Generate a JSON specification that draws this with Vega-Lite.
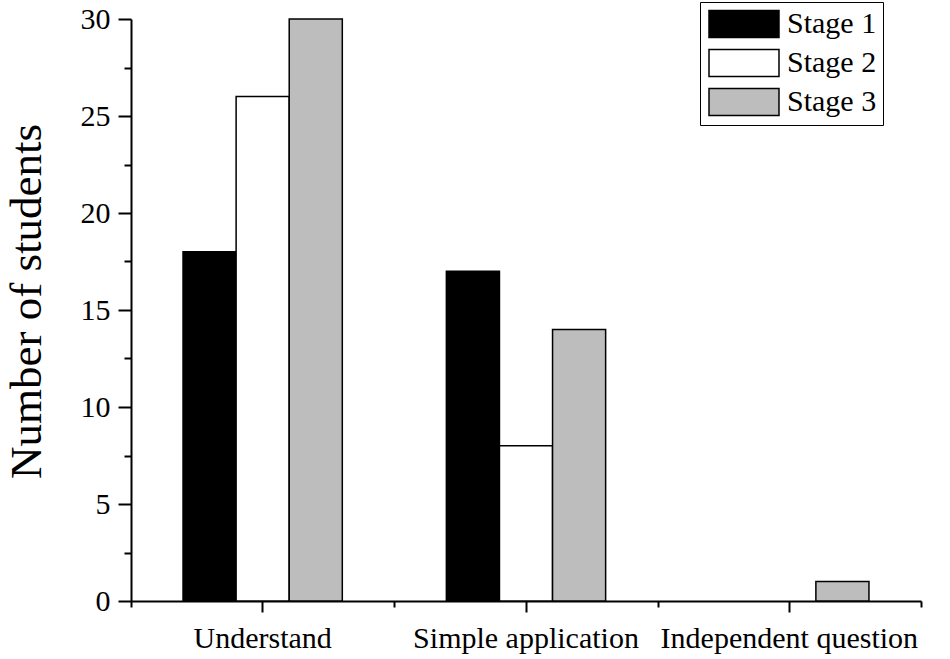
{
  "$schema": "https://vega.github.io/schema/vega-lite/v6.json",
  "autosize": "none",
  "padding": {"left": 131, "top": 19, "right": 29, "bottom": 58},
  "width": 790,
  "height": 582,
  "background": "white",
  "config": {
    "view": {"stroke": null},
    "font": "Liberation Serif"
  },
  "data": {
    "values": [
      {"category": "Understand", "stage": "Stage 1", "students": 18},
      {"category": "Understand", "stage": "Stage 2", "students": 26},
      {"category": "Understand", "stage": "Stage 3", "students": 30},
      {"category": "Simple application", "stage": "Stage 1", "students": 17},
      {"category": "Simple application", "stage": "Stage 2", "students": 8},
      {"category": "Simple application", "stage": "Stage 3", "students": 14},
      {"category": "Independent question", "stage": "Stage 1", "students": 0},
      {"category": "Independent question", "stage": "Stage 2", "students": 0},
      {"category": "Independent question", "stage": "Stage 3", "students": 1}
    ]
  },
  "layer": [
    {
      "mark": {"type": "bar", "stroke": "black", "strokeWidth": 1.5},
      "encoding": {
        "x": {
          "field": "category", "type": "nominal",
          "sort": ["Understand", "Simple application", "Independent question"],
          "scale": {"paddingInner": 0, "paddingOuter": 0},
          "axis": {
            "orient": "bottom",
            "title": null,
            "labelAngle": 0,
            "labelFont": "Liberation Serif",
            "labelFontSize": 30,
            "labelColor": "black",
            "labelBaseline": "alphabetic",
            "labelPadding": 35,
            "labelLimit": 0,
            "tickSize": 11,
            "tickWidth": 2,
            "tickColor": "black",
            "domainColor": "black",
            "domainWidth": 2
          }
        },
        "xOffset": {
          "field": "stage", "type": "nominal",
          "scale": {"paddingInner": 0, "paddingOuter": 0.98}
        },
        "y": {
          "field": "students", "type": "quantitative",
          "scale": {"domain": [0, 30], "nice": false},
          "axis": {
            "title": "Number of students",
            "titleFont": "Liberation Serif",
            "titleFontSize": 45,
            "titleFontWeight": "normal",
            "titleColor": "black",
            "titleBaseline": "alphabetic",
            "titleX": -91,
            "titleY": 282,
            "values": [0, 2.5, 5, 7.5, 10, 12.5, 15, 17.5, 20, 22.5, 25, 27.5, 30],
            "labelExpr": "datum.value % 5 === 0 ? datum.label : ''",
            "labelFont": "Liberation Serif",
            "labelFontSize": 30,
            "labelColor": "black",
            "labelPadding": 8,
            "grid": false,
            "tickSize": {"condition": {"test": "datum.value % 5 === 0", "value": 13}, "value": 7},
            "tickWidth": 2,
            "tickColor": "black",
            "domainColor": "black",
            "domainWidth": 2
          }
        },
        "strokeOpacity": {
          "condition": {"test": "datum.students === 0", "value": 0},
          "value": 1
        },
        "color": {
          "field": "stage", "type": "nominal",
          "scale": {"domain": ["Stage 1", "Stage 2", "Stage 3"], "range": ["#000000", "#ffffff", "#bdbdbd"]},
          "legend": {
            "title": null,
            "orient": "none",
            "legendX": 569,
            "legendY": -17,
            "fillColor": "white",
            "strokeColor": "black",
            "padding": 6,
            "symbolType": "M-2.333,-0.9L2.333,-0.9L2.333,0.9L-2.333,0.9Z",
            "symbolSize": 900,
            "symbolOffset": 22,
            "symbolStrokeColor": "black",
            "symbolStrokeWidth": 1.5,
            "symbolOpacity": 1,
            "labelFont": "Liberation Serif",
            "labelFontSize": 30,
            "labelColor": "black",
            "labelOffset": 27,
            "rowPadding": 5
          }
        }
      }
    },
    {
      "mark": {"type": "bar", "opacity": 0},
      "encoding": {
        "x": {
          "field": "category", "type": "nominal",
          "sort": ["Understand", "Simple application", "Independent question"],
          "axis": {
            "orient": "bottom",
            "title": null,
            "labels": false,
            "domain": false,
            "tickBand": "extent",
            "tickSize": 6,
            "tickWidth": 2,
            "tickColor": "black"
          }
        },
        "y": {"field": "students", "type": "quantitative"}
      }
    }
  ],
  "resolve": {"axis": {"x": "independent"}}
}
